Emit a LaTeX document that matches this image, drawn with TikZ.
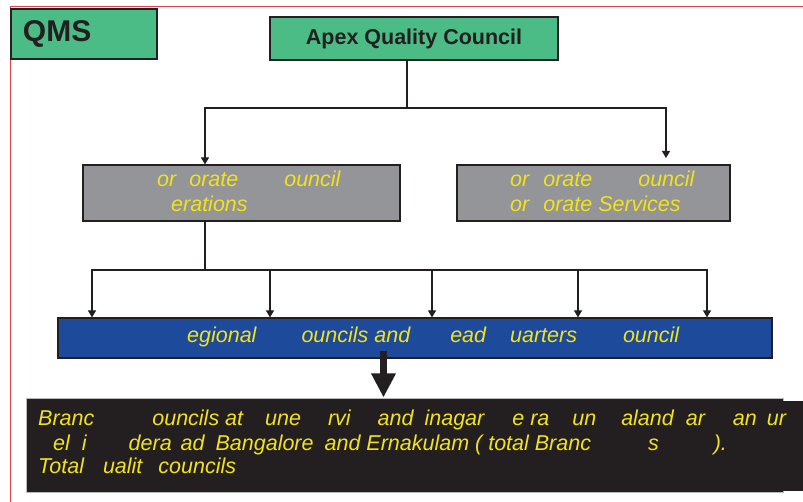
\documentclass[tikz,border=0pt]{standalone}
\usepackage{fontspec}
\setmainfont{Liberation Sans}
\usepackage{xcolor}
\usepackage{tikz}
\usetikzlibrary{arrows.meta}

\definecolor{qgreen}{HTML}{4BBC86}
\definecolor{qgray}{HTML}{939598}
\definecolor{qblue}{HTML}{1D4A9B}
\definecolor{qblack}{HTML}{231F20}
\definecolor{qyellow}{HTML}{F2E21A}
\definecolor{qred}{HTML}{E0444E}

\begin{document}
\begin{tikzpicture}[inner sep=0pt,
  qbox/.style={draw=qblack, line width=1.2pt, shape=rectangle},
  ytext/.style={anchor=base west, text=qyellow, font=\fontsize{21.5}{25}\selectfont\itshape},
  wire/.style={draw=qblack, line width=1.2pt},
  arrowed/.style={wire, -{Triangle[length=7pt,width=8pt]}},
  fatarrow/.style={draw=qblack, line width=7pt, -{Triangle[length=24pt,width=23pt]}}]
\useasboundingbox (0pt,0pt) rectangle (803pt,-502pt);

% frame
\draw [qred, line width=1pt] (10pt,-502pt) -- (10pt,-7pt) -- (803pt,-7pt);

\node (qms) [qbox, fill=qgreen, minimum width=146pt, minimum height=50pt, at={(84pt,-34pt)}, text=qblack, text width=122pt, align=left, font=\bfseries\fontsize{30}{32}\selectfont] {QMS};
\node (apex) [qbox, fill=qgreen, minimum width=288pt, minimum height=43pt, at={(414pt,-38.5pt)}, text=qblack, font=\bfseries\fontsize{21.5}{24}\selectfont] {Apex Quality Council};
\node (corpops) [qbox, fill=qgray, minimum width=317pt, minimum height=56pt, at={(241.5pt,-193pt)}] {};
\node (corpserv) [qbox, fill=qgray, minimum width=273pt, minimum height=56pt, at={(593.5pt,-193pt)}] {};
\node (regional) [qbox, fill=qblue, minimum width=714pt, minimum height=40pt, at={(415pt,-338pt)}] {};
\node (branch) [fill=qblack, draw=gray!55, line width=1pt, minimum width=757pt, minimum height=94pt, at={(404.5pt,-445pt)}] {};
\fill [qblack] ([xshift=-1pt,yshift=-3pt]branch.north east) rectangle (803pt,-491pt);

% texts
\node (opsline1) [ytext, at={(157pt,-187pt)}] {or\hspace{13pt}orate\hspace{46pt}ouncil};
\node (opsline2) [ytext, at={(171pt,-212pt)}] {erations};
\node (servline1) [ytext, at={(510pt,-187pt)}] {or\hspace{14pt}orate\hspace{46pt}ouncil};
\node (servline2) [ytext, at={(510pt,-212pt)}] {or\hspace{14pt}orate Services};
\node (regline) [ytext, at={(187pt,-343pt)}] {egional\hspace{45pt}ouncils and\hspace{40pt}ead\hspace{24pt}uarters\hspace{46pt}ouncil};
\node (brline1) [ytext, at={(38pt,-425pt)}] {Branc\hspace{58pt}ouncils at\hspace{22pt}une\hspace{27pt}rvi\hspace{27pt}and\hspace{11pt}inagar\hspace{28pt}e ra\hspace{23pt}un\hspace{25pt}aland\hspace{12pt}ar\hspace{28pt}an\hspace{10pt}ur};
\node (brline2) [ytext, at={(53pt,-450pt)}] {el\hspace{12pt}i\hspace{42pt}dera\hspace{9pt}ad\hspace{11pt}Bangalore\hspace{11pt}and Ernakulam ( total Branc\hspace{57pt}s\hspace{55pt}).};
\node (brline3) [ytext, at={(38pt,-473pt)}] {Total\hspace{19pt}ualit\hspace{16pt}councils};

% connectors
\coordinate (apexsplit) at (407pt,-108pt);
\coordinate (opssplit) at (205pt,-270pt);
\coordinate (servtip) at (666pt,-158pt);
\coordinate (fatfoot) at (383.5pt,-351pt);

\draw [wire] (apex.south -| apexsplit) -- (apexsplit);
\draw [arrowed] (apexsplit) -| (corpops.north -| opssplit);
\draw [arrowed] (apexsplit) -| (servtip);

\draw [wire] (corpops.south -| opssplit) -- (opssplit);
\foreach \x in {92,270,432,578,707}
  \draw [arrowed] (opssplit) -| (regional.north -| \x pt,0);

\draw [fatarrow] (fatfoot) -- (fatfoot |- branch.north);
\end{tikzpicture}
\end{document}
